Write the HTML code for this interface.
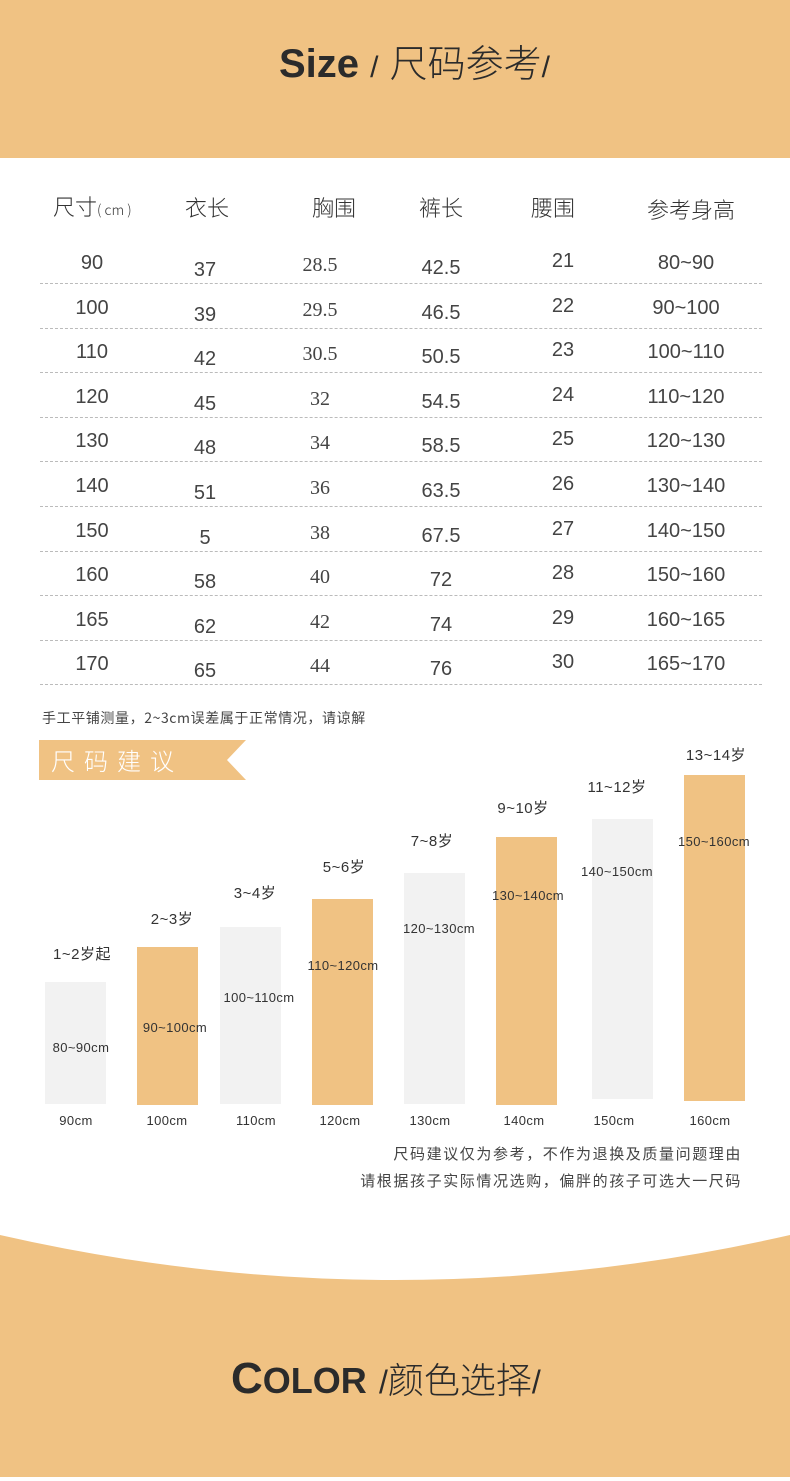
<!DOCTYPE html>
<html><head><meta charset="utf-8"><style>
*{margin:0;padding:0;box-sizing:border-box}
body{width:790px;height:1481px;position:relative;background:#fff;font-family:"Liberation Sans","Noto Sans CJK SC",sans-serif;color:#333;overflow:hidden}
.a{position:absolute;white-space:nowrap}
.c{transform:translateX(-50%)}
.t{font-size:20px;font-weight:300;color:#444;font-family:"Liberation Sans","Noto Sans CJK SC",sans-serif;line-height:24px}
.h{font-size:22px;font-family:"Noto Sans CJK SC",sans-serif;font-weight:300;line-height:28px}
.line{position:absolute;left:40px;width:722px;border-top:1px dashed #bbb;height:0}
.bar{position:absolute;width:61px}
.o{background:#f0c283}.g{background:#f2f2f2}
.s{font-size:13px;line-height:16px;color:#333;letter-spacing:0.4px}
.ag{font-size:15px;line-height:18px;color:#333;letter-spacing:0.5px}
</style></head><body>
<div class="a" style="left:0;top:0;width:790px;height:158px;background:#f0c283"></div>
<div class="a" style="left:279px;top:36px;font-size:40px;line-height:50px;font-weight:bold;color:#2b2b2b">Size <span style="font-weight:normal;font-size:30px">/</span> <span style="font-family:'Noto Sans CJK SC',sans-serif;font-weight:300;font-size:38px">尺码参考</span><span style="font-weight:normal;font-size:30px">/</span></div>

<div class="a h" style="left:53px;top:192px">尺寸<span style="font-size:14px">( cm )</span></div>
<div class="a h c" style="left:207px;top:193px">衣长</div>
<div class="a h c" style="left:334px;top:193px">胸围</div>
<div class="a h c" style="left:441px;top:193px">裤长</div>
<div class="a h c" style="left:553px;top:193px">腰围</div>
<div class="a h c" style="left:691px;top:195px">参考身高</div>

<div id="rows"></div>
<script>
var d=[["90","37","28.5","42.5","21","80~90"],["100","39","29.5","46.5","22","90~100"],["110","42","30.5","50.5","23","100~110"],["120","45","32","54.5","24","110~120"],["130","48","34","58.5","25","120~130"],["140","51","36","63.5","26","130~140"],["150","5","38","67.5","27","140~150"],["160","58","40","72","28","150~160"],["165","62","42","74","29","160~165"],["170","65","44","76","30","165~170"]];
var xs=[92,205,320,441,563,686],off=[0,7,2,5,-2,0],h="";
for(var i=0;i<10;i++){var y=251+i*44.6;
for(var j=0;j<6;j++){h+='<div class="a t c" style="left:'+xs[j]+'px;top:'+(y+off[j])+'px'+(j==2?';font-family:\'Liberation Serif\',serif':'')+'">'+d[i][j]+'</div>';}
h+='<div class="line" style="top:'+(283+i*44.6)+'px"></div>';}
document.getElementById("rows").innerHTML=h;
</script>

<div class="a" style="left:42px;top:709px;font-size:14px;line-height:18px;color:#444;letter-spacing:0.6px;font-family:'Noto Sans CJK SC',sans-serif">手工平铺测量，2~3cm误差属于正常情况，请谅解</div>

<svg class="a" style="left:39px;top:740px" width="208" height="40"><polygon points="0,0 207,0 188,20 207,40 0,40" fill="#f0c283"/></svg>
<div class="a" style="left:51px;top:745px;font-size:24px;line-height:30px;color:#fff;letter-spacing:9px;font-family:'Noto Sans CJK SC',sans-serif;font-weight:300">尺码建议</div>

<div class="bar g" style="left:45px;top:982px;height:122px"></div>
<div class="bar o" style="left:137px;top:947px;height:158px"></div>
<div class="bar g" style="left:220px;top:927px;height:177px"></div>
<div class="bar o" style="left:312px;top:899px;height:206px"></div>
<div class="bar g" style="left:404px;top:873px;height:231px"></div>
<div class="bar o" style="left:496px;top:837px;height:268px"></div>
<div class="bar g" style="left:592px;top:819px;height:280px"></div>
<div class="bar o" style="left:684px;top:775px;height:326px"></div>

<div class="a ag c" style="left:82px;top:946px">1~2岁起</div>
<div class="a ag c" style="left:172px;top:911px">2~3岁</div>
<div class="a ag c" style="left:255px;top:885px">3~4岁</div>
<div class="a ag c" style="left:344px;top:859px">5~6岁</div>
<div class="a ag c" style="left:432px;top:833px">7~8岁</div>
<div class="a ag c" style="left:523px;top:800px">9~10岁</div>
<div class="a ag c" style="left:617px;top:779px">11~12岁</div>
<div class="a ag c" style="left:716px;top:747px">13~14岁</div>

<div class="a s c" style="left:81px;top:1040px">80~90cm</div>
<div class="a s c" style="left:175px;top:1020px">90~100cm</div>
<div class="a s c" style="left:259px;top:990px">100~110cm</div>
<div class="a s c" style="left:343px;top:958px">110~120cm</div>
<div class="a s c" style="left:439px;top:921px">120~130cm</div>
<div class="a s c" style="left:528px;top:888px">130~140cm</div>
<div class="a s c" style="left:617px;top:864px">140~150cm</div>
<div class="a s c" style="left:714px;top:834px">150~160cm</div>

<div class="a s c" style="left:76px;top:1113px">90cm</div>
<div class="a s c" style="left:167px;top:1113px">100cm</div>
<div class="a s c" style="left:256px;top:1113px">110cm</div>
<div class="a s c" style="left:340px;top:1113px">120cm</div>
<div class="a s c" style="left:430px;top:1113px">130cm</div>
<div class="a s c" style="left:524px;top:1113px">140cm</div>
<div class="a s c" style="left:614px;top:1113px">150cm</div>
<div class="a s c" style="left:710px;top:1113px">160cm</div>

<div class="a" style="right:48px;top:1145px;font-size:15px;line-height:18px;color:#444;letter-spacing:1.6px;font-family:'Noto Sans CJK SC',sans-serif">尺码建议仅为参考，不作为退换及质量问题理由</div>
<div class="a" style="right:48px;top:1172px;font-size:15px;line-height:18px;color:#444;letter-spacing:1.6px;font-family:'Noto Sans CJK SC',sans-serif">请根据孩子实际情况选购，偏胖的孩子可选大一尺码</div>

<svg class="a" style="left:0;top:1230px" width="790" height="251"><path d="M0,5 Q395,95 790,5 L790,247 L0,247 Z" fill="#f0c283"/></svg>
<div class="a" style="left:231px;top:1352px;font-size:44px;line-height:52px;font-weight:bold;color:#2b2b2b">C<span style="font-size:36px">OLOR</span> <span style="font-weight:normal;font-size:32px">/</span><span style="font-family:'Noto Sans CJK SC',sans-serif;font-weight:300;font-size:36px">颜色选择</span><span style="font-weight:normal;font-size:32px">/</span></div>
</body></html>
